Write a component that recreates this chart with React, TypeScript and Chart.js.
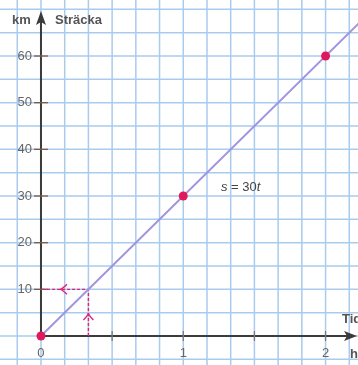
import { useEffect, useRef } from "react";
import { Chart, registerables } from "chart.js";

Chart.register(...registerables);

// Measured points of s = 30t (time in hours, distance in km)
const hours = [0, 1, 2];
const distanceKm = [0, 30, 60];
// The drawn line runs past the top-right edge of the plot
const lineTimes = [0, 2.4];
const lineDistances = [0, 72];
// Reading off the time for 10 km: up from t = 1/3, then left to the s-axis
const guideTimes = [1 / 3, 1 / 3, 0];
const guideDistances = [0, 10, 10];

const xTickLabels = ["0", "1", "2"];
const xTickValues = [0, 1, 2];
const xTickMarks = [0.5, 1, 1.5, 2];
const yTickValues = [10, 20, 30, 40, 50, 60];

const X_MIN = -0.288;
const X_MAX = 2.228;
const Y_MIN = -6.21;
const Y_MAX = 72;
const X_GRID_STEP = 1 / 6;
const Y_GRID_STEP = 5;

const gridValues = (min: number, max: number, step: number) => {
  const out: number[] = [];
  for (let i = Math.ceil(min / step); i * step <= max; i++) out.push(i * step);
  return out;
};

const GRID_COLOR = "#a9cbee";
const AXIS_COLOR = "#3b3b3b";
const LABEL_COLOR = "#666666";
const MAGENTA = "#e2237a";
const FONT = "'Liberation Sans', Arial, sans-serif";

// squared paper behind everything
const gridPlugin = {
  id: "squaredPaper",
  beforeDatasetsDraw(chart: any) {
    const { ctx, scales, chartArea } = chart;
    const xs = scales.x;
    const ys = scales.y;
    ctx.save();
    ctx.strokeStyle = GRID_COLOR;
    ctx.lineWidth = 1.5;
    gridValues(X_MIN, X_MAX, X_GRID_STEP).forEach((v) => {
      const px = xs.getPixelForValue(v);
      ctx.beginPath();
      ctx.moveTo(px, chartArea.top);
      ctx.lineTo(px, chartArea.bottom);
      ctx.stroke();
    });
    gridValues(Y_MIN, Y_MAX, Y_GRID_STEP).forEach((v) => {
      const py = ys.getPixelForValue(v);
      ctx.beginPath();
      ctx.moveTo(chartArea.left, py);
      ctx.lineTo(chartArea.right, py);
      ctx.stroke();
    });
    ctx.restore();
  },
};

const axesPlugin = {
  id: "axesAndLabels",
  beforeDatasetsDraw(chart: any) {
    const { ctx, scales } = chart;
    const xs = scales.x;
    const ys = scales.y;
    const ox = xs.getPixelForValue(0);
    const oy = ys.getPixelForValue(0);
    ctx.save();

    // axes
    ctx.strokeStyle = AXIS_COLOR;
    ctx.fillStyle = AXIS_COLOR;
    ctx.lineWidth = 2;
    ctx.beginPath();
    ctx.moveTo(ox, oy);
    ctx.lineTo(ox, 20);
    ctx.moveTo(ox, oy);
    ctx.lineTo(350, oy);
    ctx.stroke();

    // arrow heads
    ctx.beginPath();
    ctx.moveTo(ox, 11);
    ctx.lineTo(ox - 5, 25);
    ctx.lineTo(ox, 22);
    ctx.lineTo(ox + 5, 25);
    ctx.closePath();
    ctx.fill();
    ctx.beginPath();
    ctx.moveTo(357, oy);
    ctx.lineTo(344, oy - 5);
    ctx.lineTo(347, oy);
    ctx.lineTo(344, oy + 5);
    ctx.closePath();
    ctx.fill();

    // tick marks
    ctx.lineWidth = 1.3;
    ctx.strokeStyle = "#7a7a7a";
    xTickMarks.forEach((v) => {
      const px = xs.getPixelForValue(v);
      ctx.beginPath();
      ctx.moveTo(px, oy - 5);
      ctx.lineTo(px, oy + 5);
      ctx.stroke();
    });
    ctx.strokeStyle = "#7a5c48";
    yTickValues.forEach((v) => {
      const py = ys.getPixelForValue(v);
      ctx.beginPath();
      ctx.moveTo(ox - 7, py);
      ctx.lineTo(ox + 7, py);
      ctx.stroke();
    });

    // tick labels
    ctx.fillStyle = LABEL_COLOR;
    ctx.font = `13px ${FONT}`;
    ctx.textAlign = "right";
    ctx.textBaseline = "middle";
    yTickValues.forEach((v) => {
      ctx.fillText(String(v), ox - 9, ys.getPixelForValue(v));
    });
    ctx.textAlign = "center";
    xTickValues.forEach((v, i) => {
      ctx.fillText(xTickLabels[i], xs.getPixelForValue(v), oy + 17);
    });

    // axis titles
    ctx.font = `bold 13px ${FONT}`;
    ctx.fillStyle = "#555555";
    ctx.textAlign = "left";
    ctx.fillText("km", 12, 20);
    ctx.fillText("Sträcka", 55, 20);
    ctx.fillText("Tid", 342, oy - 17);
    ctx.fillText("h", 350, oy + 18);

    // guide arrows (chevrons)
    const gx = xs.getPixelForValue(1 / 3);
    const gy = ys.getPixelForValue(10);
    ctx.strokeStyle = MAGENTA;
    ctx.lineWidth = 1.4;
    const cy = oy - 22;
    ctx.beginPath();
    ctx.moveTo(gx - 5, cy + 6);
    ctx.quadraticCurveTo(gx, cy + 1, gx, cy - 1);
    ctx.quadraticCurveTo(gx, cy + 1, gx + 5, cy + 6);
    ctx.stroke();
    const cx = ox + 20;
    ctx.beginPath();
    ctx.moveTo(cx + 6, gy - 5);
    ctx.quadraticCurveTo(cx + 1, gy, cx - 1, gy);
    ctx.quadraticCurveTo(cx + 1, gy, cx + 6, gy + 5);
    ctx.stroke();

    // formula
    const fx = xs.getPixelForValue(1.265);
    const fy = ys.getPixelForValue(31);
    ctx.fillStyle = "#444444";
    ctx.textBaseline = "alphabetic";
    let x = fx;
    ctx.font = `italic 13px ${FONT}`;
    ctx.fillText("s", x, fy);
    x += ctx.measureText("s").width;
    ctx.font = `13px ${FONT}`;
    ctx.fillText(" = 30", x, fy);
    x += ctx.measureText(" = 30").width;
    ctx.font = `italic 13px ${FONT}`;
    ctx.fillText("t", x, fy);

    ctx.restore();
  },
};

export default function App() {
  const canvasRef = useRef<HTMLCanvasElement>(null);

  useEffect(() => {
    if (!canvasRef.current) return;
    const chart = new Chart(canvasRef.current, {
      type: "scatter",
      data: {
        datasets: [
          {
            label: "guide",
            data: guideTimes.map((t, i) => ({ x: t, y: guideDistances[i] })),
            showLine: true,
            borderColor: MAGENTA,
            borderWidth: 1.4,
            borderDash: [3, 2],
            pointRadius: 0,
            order: 3,
          },
          {
            label: "s = 30t",
            data: lineTimes.map((t, i) => ({ x: t, y: lineDistances[i] })),
            showLine: true,
            borderColor: "#a095e0",
            borderWidth: 2,
            pointRadius: 0,
            order: 2,
          },
          {
            label: "points",
            data: hours.map((t, i) => ({ x: t, y: distanceKm[i] })),
            pointRadius: 4.5,
            pointBackgroundColor: "#e0195c",
            pointBorderWidth: 0,
            order: 1,
          },
        ],
      },
      options: {
        responsive: false,
        animation: false,
        layout: { padding: 0, autoPadding: false },
        plugins: {
          legend: { display: false },
          tooltip: { enabled: false },
        },
        scales: {
          x: { type: "linear", min: X_MIN, max: X_MAX, display: false },
          y: { type: "linear", min: Y_MIN, max: Y_MAX, display: false },
        },
      },
      plugins: [gridPlugin, axesPlugin],
    });
    return () => chart.destroy();
  }, []);

  return (
    <div style={{ position: "absolute", left: 0, top: 0, width: 358, height: 365, background: "#ffffff" }}>
      <canvas ref={canvasRef} width={358} height={365} />
    </div>
  );
}
